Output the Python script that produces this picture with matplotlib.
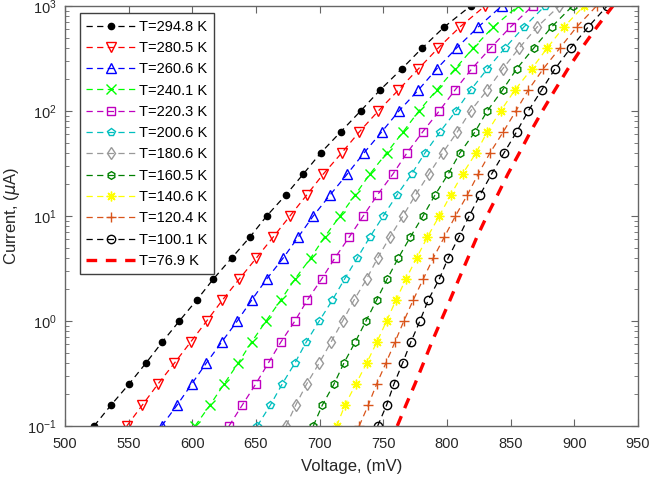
import numpy as np
import matplotlib
matplotlib.use('Agg')
import matplotlib.pyplot as plt

plt.rcParams['font.family'] = ['Liberation Sans', 'DejaVu Sans']

# current levels (uA), same for every curve
current = [0.1, 0.158, 0.251, 0.398, 0.631, 1.0, 1.58, 2.51, 3.98, 6.31, 10.0,
           15.8, 25.1, 39.8, 63.1, 100.0, 158.0, 251.0, 398.0, 631.0, 1000.0]

# voltages (mV), one list per temperature
v_294 = [522.8, 536.1, 550.3, 563.6, 576.4, 589.8, 603.4, 616.5, 630.9, 645.3, 658.4,
         673.3, 687.2, 700.8, 716.5, 732.2, 747.4, 764.4, 780.6, 797.9, 818.6]
v_280 = [548.5, 560.7, 573.0, 586.0, 598.7, 611.3, 623.6, 636.9, 650.3, 663.6, 676.7,
         689.8, 702.9, 717.3, 731.1, 746.1, 761.8, 777.5, 793.2, 810.2, 829.9]
v_260 = [575.9, 588.0, 599.5, 611.0, 623.1, 635.3, 646.6, 658.4, 671.4, 683.2, 695.0,
         708.1, 721.7, 734.8, 748.7, 762.3, 777.5, 791.9, 807.6, 824.6, 843.0]
v_240 = [602.1, 613.9, 624.9, 636.1, 646.6, 657.9, 669.5, 680.6, 693.0, 703.9, 716.0,
         727.8, 739.5, 752.6, 765.5, 778.0, 791.9, 806.3, 820.7, 836.4, 856.0]
v_220 = [628.8, 639.2, 649.8, 659.7, 669.6, 680.6, 690.3, 701.6, 712.0, 723.3, 734.3,
         745.3, 757.6, 768.6, 780.9, 794.0, 806.3, 819.4, 834.3, 850.0, 867.3]
v_200 = [651.0, 661.3, 670.6, 680.6, 689.5, 699.7, 710.0, 719.6, 729.6, 739.5, 750.0,
         760.7, 772.3, 782.7, 794.5, 807.1, 818.6, 831.7, 845.6, 860.5, 877.0]
v_180 = [673.6, 681.2, 689.8, 699.7, 709.0, 718.1, 727.0, 736.9, 745.6, 755.2, 765.5,
         775.3, 785.9, 796.6, 808.1, 818.6, 831.7, 843.7, 856.8, 870.9, 888.2]
v_160 = [695.0, 702.1, 711.3, 719.1, 728.0, 736.4, 744.8, 753.1, 761.8, 771.3, 781.2,
         790.6, 801.0, 810.2, 822.0, 831.7, 843.7, 854.7, 868.3, 882.2, 898.7]
v_140 = [713.4, 719.9, 728.5, 737.0, 745.0, 752.6, 760.0, 767.8, 776.2, 784.7, 794.0,
         802.9, 812.3, 822.8, 831.7, 842.2, 853.4, 866.5, 878.8, 891.9, 907.6]
v_120 = [731.1, 738.2, 744.8, 752.1, 759.2, 766.2, 773.5, 781.4, 789.3, 798.0, 806.7,
         816.0, 824.6, 833.8, 844.2, 854.2, 863.9, 875.6, 888.8, 901.9, 917.6]
v_100 = [745.6, 752.6, 758.4, 765.2, 771.7, 778.8, 785.3, 794.0, 801.0, 809.4, 817.5,
         825.9, 835.1, 844.8, 854.7, 863.9, 874.4, 884.8, 897.2, 911.0, 925.9]
v_77 = [761.0, 767.8, 774.9, 781.6, 788.2, 795.3, 802.4, 809.4, 816.5, 823.6, 831.4,
        839.7, 847.9, 856.9, 865.6, 875.0, 884.8, 895.0, 906.0, 917.8, 930.4]

labels = ['T=294.8 K', 'T=280.5 K', 'T=260.6 K', 'T=240.1 K', 'T=220.3 K', 'T=200.6 K',
          'T=180.6 K', 'T=160.5 K', 'T=140.6 K', 'T=120.4 K', 'T=100.1 K', 'T=76.9 K']
voltages = [v_294, v_280, v_260, v_240, v_220, v_200, v_180, v_160, v_140, v_120, v_100, v_77]

colors = ['k', 'r', 'b', (0, 1, 0), 'm', 'c', (0.6, 0.6, 0.6), (0, 0.5, 0),
          (1, 1, 0), (0.85, 0.33, 0.1), 'k', 'r']
markers = ['o', 'v', '^', 'x', 's', 'p', 'd', 'h', (8, 2, 0), '+', 'o', None]
msizes = [4.5, 6.5, 6.5, 6.5, 5.5, 6, 6.5, 5.5, 7, 7, 6, 0]

fig = plt.figure(figsize=(6.49, 4.83), dpi=100)
ax = fig.add_axes([0.1002, 0.118, 0.8826, 0.8696])

for i in range(len(labels)):
    if markers[i] is None:
        ax.semilogy(voltages[i], current, '--', color=colors[i], lw=2.4,
                    dashes=(3.2, 2.6), label=labels[i])
    elif i == 0:
        ax.semilogy(voltages[i], current, '--', color=colors[i], lw=0.9, dashes=(5, 3.5),
                    marker='o', ms=msizes[i], mfc=colors[i], mec=colors[i], label=labels[i])
    else:
        ax.semilogy(voltages[i], current, '--', color=colors[i], lw=0.9, dashes=(5, 3.5),
                    marker=markers[i], ms=msizes[i], mfc='none', mec=colors[i], mew=1.0,
                    label=labels[i])

ax.set_xlim(500, 950)
ax.set_ylim(0.1, 1000)
ax.set_xticks(np.arange(500, 951, 50))

axis_col = (0.15, 0.15, 0.15)
for s in ax.spines.values():
    s.set_color((0.4, 0.4, 0.4))
    s.set_linewidth(1.0)
ax.tick_params(which='both', direction='in', top=True, right=True,
               colors=(0.4, 0.4, 0.4), labelcolor=axis_col, labelsize=10.5)
ax.tick_params(which='major', length=5)
ax.tick_params(which='minor', length=3)
ax.tick_params(axis='x', pad=8)
ax.tick_params(axis='y', pad=6)

ax.set_xlabel('Voltage, (mV)', fontsize=12, color=axis_col, labelpad=6)
ax.set_ylabel(r'Current, ($\mu$A)', fontsize=12, color=axis_col, labelpad=4)

leg = ax.legend(loc='upper left', bbox_to_anchor=(0.026, 0.983), borderaxespad=0,
                fontsize=10.5, handlelength=3.3, fancybox=False, framealpha=1,
                edgecolor=(0.25, 0.25, 0.25), labelspacing=0.5, borderpad=0.45,
                handletextpad=0.3)
leg.get_frame().set_linewidth(1.0)

fig.savefig('out.png', dpi=100)
